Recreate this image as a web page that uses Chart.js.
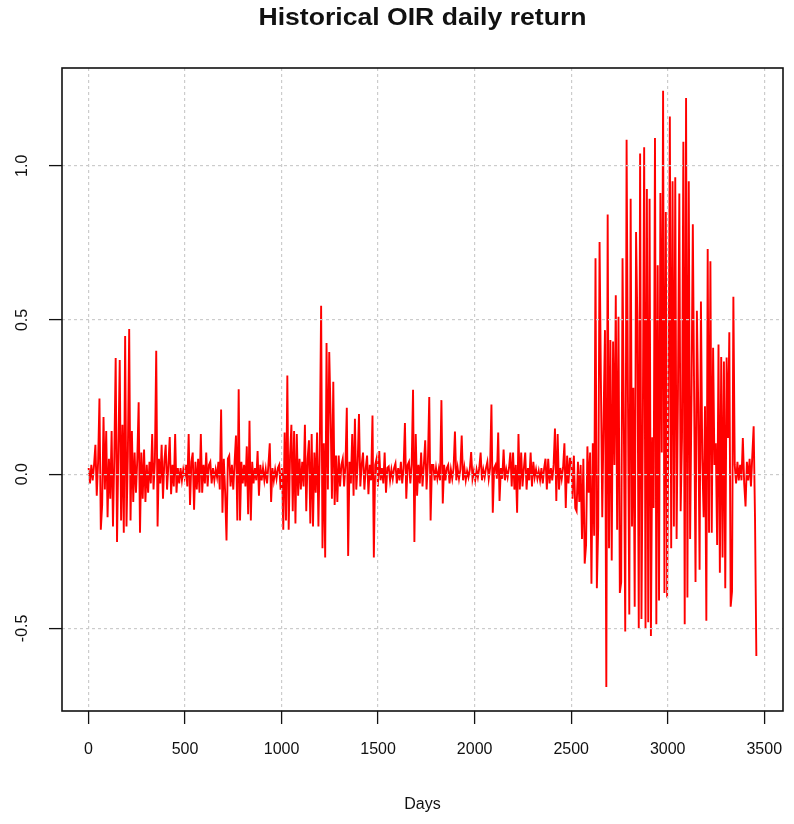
<!DOCTYPE html>
<html>
<head>
<meta charset="utf-8">
<title>Historical OIR daily return</title>
<script src="https://cdn.jsdelivr.net/npm/chart.js@4.4.1/dist/chart.umd.min.js"></script>
<style>
  body { margin: 0; background: #fff; }
  canvas { display: block; }
</style>
</head>
<body>
<canvas id="oirChart" width="794" height="824"></canvas>
<script>
// OIR daily returns, one reading every 7 days
const sampleStep = 7;

// days 1 - ~900
const returnsEarly = [
    0.02, -0.03, 0.03, -0.02, 0.03, 0.095, -0.07, 0.04, 0.245, -0.18, -0.10, 0.185, -0.05, 0.14, -0.14,
    0.05, -0.08, 0.14, -0.17, 0.06, 0.377, -0.22, 0.08, 0.37, -0.15, 0.16, -0.19, 0.448, -0.17,
    0.06, 0.471, -0.15, 0.14, -0.09, 0.07, -0.06, 0.05, 0.233, -0.19, 0.07, -0.08, 0.08, -0.09,
    0.03, -0.06, 0.04, -0.03, 0.13, -0.05, 0.04, 0.40, -0.17, 0.05, -0.03, 0.095, -0.08, 0.04,
    0.095, -0.05, 0.03, 0.12, -0.065, 0.03, -0.04, 0.13, -0.06, 0.02, -0.03, 0.02, -0.02, 0.015, -0.01,
    0.03, -0.04, 0.13, -0.10, 0.04, 0.07, -0.115, 0.04, -0.05, 0.05, -0.06, 0.13, -0.06, 0.03,
    -0.03, 0.07, -0.04, 0.03, 0.04, -0.03, 0.02, -0.02, 0.015, -0.01, 0.04, -0.05, 0.21, -0.125,
    0.05, -0.06, -0.215, 0.05, 0.06, -0.04, 0.03, -0.05, 0.04, 0.125, -0.15, 0.275, -0.15, 0.04, -0.03,
    0.03, -0.04, 0.09, -0.13, 0.173, -0.15, 0.04, -0.03, 0.02, -0.02, 0.075, -0.07, 0.03, -0.02
];

// days ~900 - ~1810
const returnsMid = [
    0.02, -0.02, 0.015, -0.03, 0.03, 0.10, -0.09, 0.02, -0.02, 0.015, -0.015, 0.02, 0.03, -0.05, 0.02,
    -0.18, 0.135, -0.15, 0.32, -0.18, 0.06, 0.16, -0.12, 0.14, -0.16, 0.13, -0.07, 0.05, -0.05, 0.04,
    -0.04, 0.16, -0.12, 0.05, 0.11, -0.16, 0.13, -0.17, 0.07, -0.06, 0.135, -0.17, 0.08, 0.546,
    -0.24, 0.1, -0.27, 0.425, -0.05, 0.396, 0.195, -0.08, 0.30, -0.10, 0.06, -0.09, 0.06, -0.04,
    0.03, 0.05, -0.04, 0.03, 0.215, -0.265, 0.04, -0.03, 0.13, -0.07, 0.18, -0.05, 0.03, 0.195,
    -0.04, 0.03, 0.07, -0.05, 0.02, 0.06, -0.065, 0.03, -0.02, 0.19, -0.27, 0.03, 0.05, -0.04, 0.075,
    -0.02, 0.02, -0.03, 0.07, -0.06, 0.02, 0.025, -0.02, 0.015, -0.015, 0.02, 0.035, -0.03, 0.02,
    -0.02, 0.04, -0.03, 0.02, 0.166, -0.08, 0.03, 0.04, -0.03, 0.03, 0.274, -0.22, 0.13, -0.07,
    0.03, -0.03, 0.07, -0.04, 0.03, 0.11, -0.05, 0.04, 0.25, -0.15, 0.03, 0.03, -0.02, 0.02, -0.015
];

// days ~1810 - 2500, the calm stretch
const returnsQuiet = [
    0.015, -0.02, 0.24, -0.095, 0.03, -0.02, 0.02, 0.03, -0.03, 0.015, -0.015, 0.02, 0.138, -0.02,
    0.02, -0.015, 0.015, 0.125, -0.02, 0.02, -0.02, 0.01, -0.01, 0.015, 0.072, -0.015, 0.01, -0.02,
    0.015, -0.01, 0.02, 0.07, -0.02, 0.015, -0.01, 0.02, 0.04, -0.015, 0.02, 0.226, -0.125, 0.02,
    0.03, -0.015, 0.135, -0.087, 0.02, -0.015, 0.08, -0.02, 0.015, -0.01, 0.02, 0.07, -0.04, 0.07, -0.05, 0.03,
    -0.125, 0.13, -0.05, 0.07, -0.04, 0.02, 0.07, -0.05, 0.02, -0.02, 0.07, -0.04, 0.04, -0.01,
    0.015, -0.015, 0.01, -0.02, 0.02, -0.03, 0.02, 0.05, -0.05, 0.05, -0.03, 0.02, -0.02, 0.03,
    0.148, -0.087, 0.13, -0.05, 0.02, -0.015, 0.02, 0.1, -0.11, 0.06, -0.03, 0.05
];

// days 2500 - ~3340, the volatile period
const returnsVolatile = [
    0.05, -0.08, 0.06, -0.11, -0.12, 0.04, -0.09, 0.03, -0.21, 0.05, -0.29, -0.23, 0.09, -0.06, 0.07,
    -0.355, 0.10, -0.20, 0.70, -0.37, -0.17, 0.753, 0.30, -0.14, 0.19, 0.467, -0.69, 0.842, -0.24,
    0.435, -0.28, 0.43, 0.03, 0.58, -0.18, 0.51, -0.385, -0.35, 0.70, 0.14, -0.51, 1.084, 0.25,
    -0.455, 0.893, -0.17, 0.28, -0.43, 0.785, 0.49, -0.50, 1.04, -0.47, 0.155, 1.06, -0.50, 0.925,
    -0.48, 0.893, -0.525, 0.12, -0.11, 1.09, -0.487, 0.677, -0.41, 0.912, 0.07, 1.243, -0.385, 0.85,
    -0.40, 0.20, 1.16, -0.24, 0.95, -0.17, 0.963, -0.21, 0.26, 0.91, -0.12, 0.12, 1.078, -0.487,
    1.22, -0.40, 0.95, -0.21, 0.24, 0.81, 0.24, -0.35, 0.53, 0.22, -0.31, 0.56, 0.05, -0.14,
    0.22, -0.475, 0.73, -0.19, 0.69, -0.19, 0.41, 0.03, 0.10, -0.23, 0.42, -0.32, 0.38, -0.27,
    0.365, -0.37, 0.378, 0.117, 0.46, -0.43, -0.38, 0.575
];

// last few months
const returnsTail = [
    0.03, -0.03, 0.04, -0.02, 0.03, -0.02, 0.117, -0.03, -0.105, 0.04, -0.02, 0.05, -0.04, 0.06, 0.155, -0.14, -0.59
];

const xTicks = [0, 500, 1000, 1500, 2000, 2500, 3000, 3500];
const yTicks = [-0.5, 0.0, 0.5, 1.0];
const yTickLabels = ['-0.5', '0.0', '0.5', '1.0'];

const chartTitle = 'Historical OIR daily return';
const xTitle = 'Days';

const returns = [].concat(returnsEarly, returnsMid, returnsQuiet, returnsVolatile, returnsTail);
const days = returns.map((_, i) => 1 + i * sampleStep);

const fontFamily = '"Liberation Sans", Arial, sans-serif';
Chart.defaults.font.family = fontFamily;

// R-like extras: box, rotated y labels, titles
const rStylePlugin = {
    id: 'rStyle',
    afterDraw(chart) {
        const ctx = chart.ctx;
        const area = chart.chartArea;
        const yScale = chart.scales.y;
        ctx.save();

        ctx.strokeStyle = '#111';
        ctx.lineWidth = 1.6;
        ctx.strokeRect(area.left, area.top, area.right - area.left, area.bottom - area.top);

        ctx.fillStyle = '#111';
        ctx.textAlign = 'center';
        ctx.textBaseline = 'middle';
        ctx.font = '16px ' + fontFamily;
        yTicks.forEach((v, i) => {
            ctx.save();
            ctx.translate(23, yScale.getPixelForValue(v));
            ctx.rotate(-Math.PI / 2);
            ctx.fillText(yTickLabels[i], 0, 0);
            ctx.restore();
        });

        const midX = (area.left + area.right) / 2;

        // main title is drawn a little wide, like the original device did
        ctx.font = 'bold 24px ' + fontFamily;
        const w = ctx.measureText(chartTitle).width;
        ctx.save();
        ctx.translate(midX, 18);
        ctx.scale(328 / w, 1);
        ctx.fillText(chartTitle, 0, 0);
        ctx.restore();

        ctx.font = '16px ' + fontFamily;
        ctx.fillText(xTitle, midX, 805);
        ctx.restore();
    }
};

// keep the plot box where R put it, even if the last label overhangs
function fixXScale(scale) {
    scale.height = 113;
    scale.paddingLeft = 0;
    scale.paddingRight = 0;
}

const ctx = document.getElementById('oirChart').getContext('2d');
new Chart(ctx, {
    type: 'line',
    data: {
        datasets: [{
            data: days.map((d, i) => ({ x: d, y: returns[i] })),
            borderColor: '#ff0000',
            borderWidth: 1.9,
            pointRadius: 0,
            tension: 0,
            fill: false
        }]
    },
    options: {
        responsive: false,
        animation: false,
        layout: { padding: { top: 68, right: 11, left: 0, bottom: 0 } },
        plugins: {
            legend: { display: false },
            tooltip: { enabled: false }
        },
        scales: {
            x: {
                type: 'linear',
                min: -137,
                max: 3597,
                afterBuildTicks: scale => { scale.ticks = xTicks.map(v => ({ value: v })); },
                afterFit: fixXScale,
                ticks: {
                    autoSkip: false,
                    maxRotation: 0,
                    padding: 16,
                    color: '#111',
                    font: { size: 16 },
                    callback: value => String(value)
                },
                grid: {
                    z: 1,
                    color: '#cccccc',
                    lineWidth: 1.2,
                    drawTicks: true,
                    tickLength: 13,
                    tickColor: '#111',
                    tickWidth: 1.3,
                    tickBorderDash: []
                },
                border: { display: false, dash: [3, 3] }
            },
            y: {
                type: 'linear',
                min: -0.768,
                max: 1.317,
                afterBuildTicks: scale => { scale.ticks = yTicks.map(v => ({ value: v })); },
                afterFit: scale => { scale.width = 62; },
                ticks: { display: false },
                grid: {
                    z: 1,
                    color: '#cccccc',
                    lineWidth: 1.2,
                    drawTicks: true,
                    tickLength: 13,
                    tickColor: '#111',
                    tickWidth: 1.3,
                    tickBorderDash: []
                },
                border: { display: false, dash: [3, 3] }
            }
        }
    },
    plugins: [rStylePlugin]
});
</script>
</body>
</html>
